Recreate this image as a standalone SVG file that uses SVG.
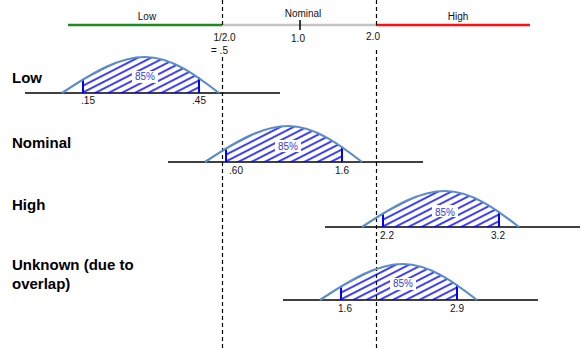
<svg xmlns="http://www.w3.org/2000/svg" xmlns:xlink="http://www.w3.org/1999/xlink" width="581" height="349" viewBox="0 0 581 349">
<style>
  .lbl { font-family: "Liberation Sans", Arial, sans-serif; font-size: 10px; fill: #111; }
  .mid { text-anchor: middle; }
  .head { font-family: "Liberation Sans", Arial, sans-serif; font-size: 15px; font-weight: bold; fill: #000; }
  .pct { font-family: "Liberation Sans", Arial, sans-serif; font-size: 10px; fill: #3340dd; text-anchor: middle; }
  .base { stroke: #000; stroke-width: 1.3; fill: none; }
  .dash { stroke: #000; stroke-width: 1.2; stroke-dasharray: 4 3; fill: none; }
</style>
<defs>
  <pattern id="hatch" patternUnits="userSpaceOnUse" width="6" height="6" patternTransform="rotate(-27)">
    <line x1="0" y1="3" x2="6" y2="3" stroke="#0000ff" stroke-width="1.5"/>
  </pattern>
  <clipPath id="bell">
    <path d="M0,0 C33,-22 58,-36 83,-36 C110,-36 135,-17 157,0 Z"/>
  </clipPath>
  <g id="dist">
    <rect x="21" y="-40" width="116" height="40" fill="url(#hatch)" clip-path="url(#bell)"/>
    <rect x="70" y="-22" width="26" height="12" fill="#fff"/>
    <line x1="21" y1="0" x2="21" y2="-14" stroke="#0000ff" stroke-width="2"/>
    <line x1="137" y1="0" x2="137" y2="-15.5" stroke="#0000ff" stroke-width="2"/>
    <path d="M0,0 C33,-22 58,-36 83,-36 C110,-36 135,-17 157,0" fill="none" stroke="#5b8ccb" stroke-width="2.2"/>
  </g>
</defs>

<g id="scale">
  <line x1="68" y1="25" x2="222" y2="25" stroke="#1f8a1f" stroke-width="2.5"/>
  <line x1="222" y1="25" x2="376" y2="25" stroke="#c3c3c3" stroke-width="2.5"/>
  <line x1="376" y1="25" x2="530" y2="25" stroke="#ff1010" stroke-width="2.5"/>
  <line x1="300" y1="20" x2="300" y2="30" stroke="#000" stroke-width="1.5"/>
  <text class="lbl mid" x="147" y="20">Low</text>
  <text class="lbl mid" x="303" y="17">Nominal</text>
  <text class="lbl mid" x="458" y="20">High</text>
  <text class="lbl mid" x="224.5" y="41">1/2.0</text>
  <text class="lbl" x="211" y="54">= .5</text>
  <text class="lbl mid" x="298" y="42">1.0</text>
  <text class="lbl mid" x="373" y="40">2.0</text>
</g>

<g id="connectors">
  <line class="dash" x1="222.5" y1="0" x2="222.5" y2="26"/>
  <line class="dash" x1="222.5" y1="57" x2="222.5" y2="349"/>
  <line class="dash" x1="376.5" y1="0" x2="376.5" y2="25"/>
  <line class="dash" x1="376.5" y1="50" x2="376.5" y2="349"/>
</g>

<g id="row-low">
  <text class="head" x="12" y="83">Low</text>
  <line class="base" x1="25" y1="93" x2="280" y2="93"/>
  <use xlink:href="#dist" href="#dist" transform="translate(62,93)"/>
  <text class="pct" x="145" y="80">85%</text>
  <text class="lbl mid" x="88" y="104">.15</text>
  <text class="lbl mid" x="199" y="104">.45</text>
</g>

<g id="row-nominal">
  <text class="head" x="12" y="148">Nominal</text>
  <line class="base" x1="168" y1="162" x2="423" y2="162"/>
  <use xlink:href="#dist" href="#dist" transform="translate(205,162)"/>
  <text class="pct" x="288" y="150">85%</text>
  <text class="lbl mid" x="236" y="174">.60</text>
  <text class="lbl mid" x="342" y="174">1.6</text>
</g>

<g id="row-high">
  <text class="head" x="12" y="210">High</text>
  <line class="base" x1="325" y1="227" x2="580" y2="227"/>
  <use xlink:href="#dist" href="#dist" transform="translate(362,227)"/>
  <text class="pct" x="445" y="215.5">85%</text>
  <text class="lbl mid" x="387" y="239">2.2</text>
  <text class="lbl mid" x="498" y="239">3.2</text>
</g>

<g id="row-unknown">
  <text class="head" x="12" y="270">Unknown (due to</text>
  <text class="head" x="12" y="289">overlap)</text>
  <line class="base" x1="283" y1="300" x2="538" y2="300"/>
  <use xlink:href="#dist" href="#dist" transform="translate(320,300)"/>
  <text class="pct" x="403" y="287">85%</text>
  <text class="lbl mid" x="345" y="312">1.6</text>
  <text class="lbl mid" x="457" y="312">2.9</text>
</g>
</svg>
